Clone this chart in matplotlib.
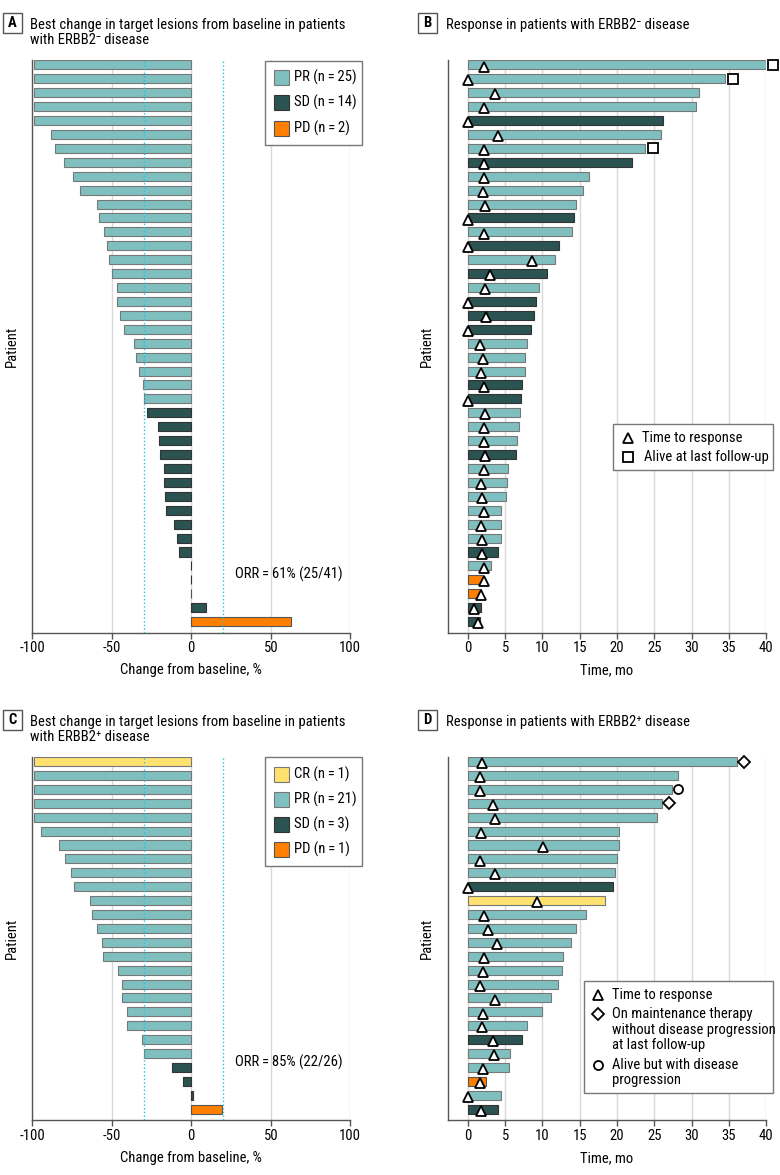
import numpy as np
import matplotlib
matplotlib.use('Agg')
import matplotlib.pyplot as plt
from matplotlib.patches import Rectangle
from matplotlib import font_manager
from matplotlib.font_manager import FontProperties
from matplotlib.textpath import TextPath

# A: best change in target lesions, ERBB2- (%)
a_change = [-99, -99, -99, -99, -99, -88.5, -85.5, -80.3, -74.6, -70.2,
            -59.1, -58.3, -55.1, -53.2, -51.8, -49.7, -46.5, -46.5, -45.1, -42.6,
            -36.3, -34.6, -32.9, -30.6, -29.6, -27.7, -21.0, -20.1, -19.5, -17.0,
            -17.0, -16.4, -16.1, -10.7, -8.8, -7.5, -0.4, -0.4, -0.2, 9.4, 62.7]
a_resp = ['PR'] * 25 + ['SD'] * 13 + ['PD', 'SD', 'PD']

# B: time on treatment, ERBB2- (months)
b_time = [40.0, 34.5, 31.0, 30.6, 26.1, 25.9, 23.8, 22.0, 16.3, 15.5,
          14.5, 14.2, 14.0, 12.2, 11.7, 10.6, 9.6, 9.2, 8.9, 8.4,
          7.9, 7.7, 7.7, 7.2, 7.1, 7.0, 6.8, 6.6, 6.5, 5.4,
          5.3, 5.1, 4.5, 4.4, 4.4, 4.1, 3.1, 2.0, 1.8, 1.8, 1.6]
b_resp = ['PR', 'PR', 'PR', 'PR', 'SD', 'PR', 'PR', 'SD', 'PR', 'PR',
          'PR', 'SD', 'PR', 'SD', 'PR', 'SD', 'PR', 'SD', 'SD', 'SD',
          'PR', 'PR', 'PR', 'SD', 'SD', 'PR', 'PR', 'PR', 'SD', 'PR',
          'PR', 'PR', 'PR', 'PR', 'PR', 'SD', 'PR', 'PD', 'PD', 'SD', 'SD']
b_ttr = [2.1, 0, 3.7, 2.1, 0, 4.0, 2.2, 2.2, 2.2, 2.0,
         2.3, 0, 2.1, 0, 8.6, 3.0, 2.3, 0, 2.4, 0,
         1.6, 2.0, 1.8, 2.2, 0, 2.3, 2.2, 2.1, 2.3, 2.1,
         1.8, 1.9, 2.2, 1.7, 1.9, 1.9, 2.1, 2.1, 1.8, 0.85, 1.4]
b_alive_rows = [0, 1, 6]
b_alive_time = [40.9, 35.6, 24.8]

# C: best change in target lesions, ERBB2+ (%)
c_change = [-99, -99, -99, -99, -99, -94.3, -83.2, -79.2, -75.5, -73.6,
            -63.5, -62.7, -59.1, -56.4, -55.3, -45.9, -43.6, -43.4, -40.5, -40.3,
            -31.2, -30.0, -12.4, -5.0, 0.8, 19.1]
c_resp = ['CR'] + ['PR'] * 21 + ['SD'] * 3 + ['PD']

# D: time on treatment, ERBB2+ (months)
d_time = [36.1, 28.2, 27.3, 26.0, 25.4, 20.3, 20.2, 20.0, 19.75, 19.4,
          18.4, 15.9, 14.5, 13.8, 12.8, 12.6, 12.1, 11.2, 10.0, 7.9,
          7.2, 5.6, 5.5, 2.4, 4.4, 4.0]
d_resp = ['PR'] * 9 + ['SD', 'CR'] + ['PR'] * 9 + ['SD', 'PR', 'PR', 'PD', 'PR', 'SD']
d_ttr = [1.9, 1.6, 1.65, 3.35, 3.7, 1.8, 10.1, 1.6, 3.6, 0,
         9.25, 2.1, 2.7, 3.9, 2.2, 2.05, 1.65, 3.6, 2.05, 1.9,
         3.4, 3.5, 2.05, 1.6, 0, 1.8]
d_maint_rows = [0, 3]
d_maint_time = [37.05, 27.0]
d_prog_rows = [2]
d_prog_time = [28.2]

colors = {'CR': '#ffe170', 'PR': '#7fbfbf', 'SD': '#2a5352', 'PD': '#ff8000'}
edges = {'CR': '#777777', 'PR': '#777777', 'SD': '#333333', 'PD': '#555555'}
grid_c = '#d8d8d8'
spine_c = '#555555'

# the original uses a narrow sans; take the narrowest one installed
title_line = 'Best change in target lesions from baseline in patients'
best = None
for name in ['Roboto Condensed', 'Liberation Sans Narrow', 'Lato', 'Roboto',
             'Liberation Sans', 'Noto Sans', 'DejaVu Sans']:
    try:
        font_manager.findfont(FontProperties(family=name), fallback_to_default=False)
    except Exception:
        continue
    tp = TextPath((0, 0), title_line, size=10, prop=FontProperties(family=name))
    w = tp.get_extents().width * 100 / 72
    if best is None or w < best[1]:
        best = (name, w)
fam = best[0]
plt.rcParams['font.family'] = [fam, 'DejaVu Sans']
fs = min(10.5, 10 * 321 / best[1])

W, H = 780, 1175
fig = plt.figure(figsize=(W / 100, H / 100), dpi=100)


def px_axes(left, top, right, bottom):
    return fig.add_axes([left / W, 1 - bottom / H, (right - left) / W, (bottom - top) / H])


def style(ax, n, xlabel):
    ax.set_ylim(n - 1 + 0.8, -0.35)
    ax.set_yticks([])
    for s in ['top', 'right']:
        ax.spines[s].set_visible(False)
    for s in ['left', 'bottom']:
        ax.spines[s].set_color(spine_c)
        ax.spines[s].set_linewidth(1)
    ax.tick_params(axis='x', direction='out', length=4, width=1, color=spine_c,
                   labelsize=fs, pad=2)
    ax.xaxis.grid(True, color=grid_c, lw=1)
    ax.set_axisbelow(True)
    ax.set_xlabel(xlabel, fontsize=fs, labelpad=6)
    ax.set_ylabel('Patient', fontsize=fs, labelpad=10)


def waterfall(ax, change, resp, orr):
    y = np.arange(len(change))
    ax.barh(y, change, height=0.65, color=[colors[r] for r in resp],
            edgecolor=[edges[r] for r in resp], linewidth=0.8, zorder=2)
    ax.set_xlim(-100, 100)
    ax.set_xticks([-100, -50, 0, 50, 100])
    ax.set_xticklabels(['-100', '-50', '0', '50', '100'])
    ax.axvline(-30, color='#1cc8e0', ls=':', lw=1, zorder=3)
    ax.axvline(20, color='#1cc8e0', ls=':', lw=1, zorder=3)
    style(ax, len(change), 'Change from baseline, %')
    ax.text(27.5, orr[0], orr[1], fontsize=fs, va='center', ha='left')


def swimmer(ax, time, resp, ttr):
    y = np.arange(len(time))
    ax.barh(y, time, height=0.65, color=[colors[r] for r in resp],
            edgecolor=[edges[r] for r in resp], linewidth=0.8, zorder=2)
    ax.plot(ttr, y + 0.12, ls='none', marker='^', ms=7, mfc='white', mec='black',
            mew=1.3, zorder=4, clip_on=False)
    ax.set_xlim(-2.7, 40)
    ax.set_xticks(np.arange(0, 41, 5))
    style(ax, len(time), 'Time, mo')


axA = px_axes(32.3, 60, 350.3, 632.7)
axB = px_axes(447.7, 60, 766.3, 632.7)
axC = px_axes(32.3, 756.7, 350.3, 1120.3)
axD = px_axes(447.7, 756.7, 766.3, 1120.3)

waterfall(axA, a_change, a_resp, (36.6, 'ORR\u2009=\u200961% (25/41)'))
waterfall(axC, c_change, c_resp, (21.6, 'ORR\u2009=\u200985% (22/26)'))

swimmer(axB, b_time, b_resp, b_ttr)
axB.plot(b_alive_time, b_alive_rows, ls='none', marker='s', ms=6.5, mfc='white',
         mec='black', mew=1.3, zorder=4, clip_on=False)

swimmer(axD, d_time, d_resp, d_ttr)
axD.plot(d_maint_time, d_maint_rows, ls='none', marker='D', ms=6, mfc='white',
         mec='black', mew=1.3, zorder=4, clip_on=False)
axD.plot(d_prog_time, d_prog_rows, ls='none', marker='o', ms=6.5, mfc='white',
         mec='black', mew=1.3, zorder=4, clip_on=False)

# overlay in pixel coords for titles and legends
ov = fig.add_axes([0, 0, 1, 1])
ov.set_xlim(0, W)
ov.set_ylim(H, 0)
ov.axis('off')


def panel_title(letter, bx, by, tx, lines):
    ov.add_patch(Rectangle((bx, by), 19, 20, fill=False, ec='#555555', lw=1))
    ov.text(bx + 9.5, by + 10.5, letter, fontsize=fs, fontweight='bold',
            ha='center', va='center')
    for i, line in enumerate(lines):
        ov.text(tx, by + 16.5 + 15 * i, line, fontsize=fs, va='baseline', ha='left')


panel_title('A', 2.7, 12.7, 30, ['Best change in target lesions from baseline in patients',
                                 'with ERBB2\u207b disease'])
panel_title('B', 418, 12.7, 445.7, ['Response in patients with ERBB2\u207b disease'])
panel_title('C', 2.7, 709.7, 30, ['Best change in target lesions from baseline in patients',
                                  'with ERBB2\u207a disease'])
panel_title('D', 418, 709.7, 445.7, ['Response in patients with ERBB2\u207a disease'])


def patch_legend(x0, y0, x1, y1, keys, labels, ys):
    ov.add_patch(Rectangle((x0, y0), x1 - x0, y1 - y0, fc='white', ec='#777777', lw=1))
    for k, lab, yy in zip(keys, labels, ys):
        ov.add_patch(Rectangle((273.8, yy - 7.5), 15, 15, fc=colors[k], ec=edges[k], lw=0.8))
        ov.text(294.3, yy, lab, fontsize=fs, va='center', ha='left')


patch_legend(265, 60.7, 361.7, 145, ['PR', 'SD', 'PD'],
             ['PR (n\u2009=\u200925)', 'SD (n\u2009=\u200914)', 'PD (n\u2009=\u20092)'],
             [77.3, 102.8, 128])
patch_legend(265, 756.7, 361.7, 866, ['CR', 'PR', 'SD', 'PD'],
             ['CR (n\u2009=\u20091)', 'PR (n\u2009=\u200921)', 'SD (n\u2009=\u20093)',
              'PD (n\u2009=\u20091)'],
             [774, 799, 824, 849.3])

mk = dict(ls='none', mfc='white', mec='black', mew=1.3)

ov.add_patch(Rectangle((613.3, 424.3), 160, 45.7, fc='white', ec='#777777', lw=1))
ov.plot([627.7], [438.3], marker='^', ms=7, **mk)
ov.text(641.7, 438.3, 'Time to response', fontsize=fs, va='center')
ov.plot([627.7], [456.7], marker='s', ms=6.5, **mk)
ov.text(644.3, 456.7, 'Alive at last follow-up', fontsize=fs, va='center')

ov.add_patch(Rectangle((584.3, 980.7), 189, 112.6, fc='white', ec='#777777', lw=1))
ov.plot([598], [995], marker='^', ms=7, **mk)
ov.plot([598], [1014], marker='D', ms=6, **mk)
ov.plot([598], [1064.7], marker='o', ms=6.5, **mk)
leg_d_lines = [(995, 'Time to response'), (1014, 'On maintenance therapy'),
               (1030, 'without disease progression'), (1045, 'at last follow-up'),
               (1064.7, 'Alive but with disease'), (1080, 'progression')]
for yy, t in leg_d_lines:
    ov.text(612.3, yy, t, fontsize=fs, va='center')

fig.savefig('out.png', dpi=100, facecolor='white')
